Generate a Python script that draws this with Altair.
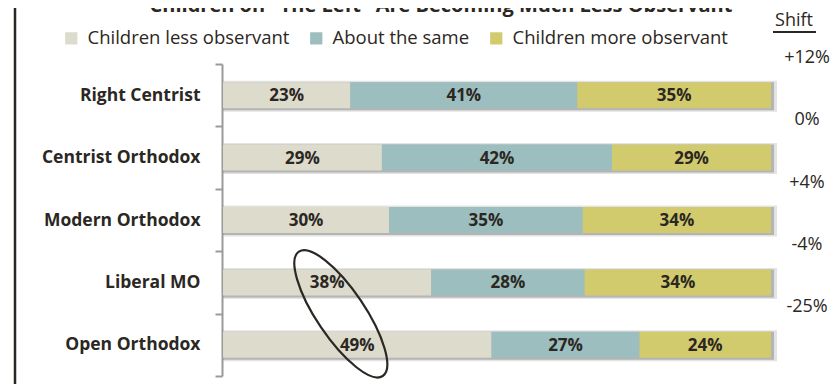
import altair as alt
import pandas as pd

groups = ["Right Centrist", "Centrist Orthodox", "Modern Orthodox", "Liberal MO", "Open Orthodox"]
less = [23, 29, 30, 38, 49]
same = [41, 42, 35, 28, 27]
more = [35, 29, 34, 34, 24]
shift = ["+12%", "0%", "+4%", "-4%", "-25%"]
series = ["Children less observant", "About the same", "Children more observant"]
colors = ["#DDDBCC", "#9DBEBE", "#D2CB6E"]
title_text = 'Children on "The Left" Are Becoming Much Less Observant'
shift_header = "Shift"
circled_x = [0.215]
circled_group = ["Open Orthodox"]

FONT = "Open Sans"
DARK = "#2b2722"

rows = []
for i, g in enumerate(groups):
    vals = [less[i], same[i], more[i]]
    total = sum(vals)
    cum = 0
    for k, s in enumerate(series):
        start = cum / total
        cum += vals[k]
        end = cum / total
        rows.append({"group": g, "series": s, "value": vals[k], "order": k,
                     "x0": start, "x1": end, "mid": (start + end) / 2,
                     "label": f"{vals[k]}%"})
df = pd.DataFrame(rows)
shadow_df = pd.DataFrame({"group": groups, "x0": [0.0] * len(groups), "x1": [1.0] * len(groups)})
shift_df = pd.DataFrame({"group": groups, "shift": shift})
ell_df = pd.DataFrame({"group": circled_group, "ex": circled_x})

y_axis = alt.Axis(
    title=None, domainColor="#9a9a9a", domainWidth=2, tickColor="#9a9a9a", tickWidth=2,
    tickSize=7, tickBand="extent", labelFont=FONT, labelFontWeight="bold", labelFontSize=17.5,
    labelColor=DARK, labelPadding=15, offset=1, labelLimit=0,
)
y_scale = alt.Scale(domain=groups, paddingInner=0, paddingOuter=0)
y_enc = alt.Y("group:N", sort=groups, scale=y_scale, axis=y_axis)
x_scale = alt.Scale(domain=[0, 1], nice=False, zero=False)

shadow1 = alt.Chart(shadow_df).mark_bar(size=31, color="#b0b0b0", opacity=0.35, x2Offset=6, yOffset=1).encode(
    x=alt.X("x0:Q", scale=x_scale, axis=None), x2="x1:Q", y=y_enc)
shadow2 = alt.Chart(shadow_df).mark_bar(size=28, color="#7a7a7a", opacity=0.45, x2Offset=3, yOffset=1).encode(
    x=alt.X("x0:Q", scale=x_scale, axis=None), x2="x1:Q", y=y_enc)

bars = alt.Chart(df).mark_bar(size=26).encode(
    x=alt.X("x0:Q", scale=x_scale, axis=None), x2="x1:Q", y=y_enc,
    color=alt.Color("series:N", sort=series, scale=alt.Scale(domain=series, range=colors),
                    legend=alt.Legend(title=None, orient="none", legendX=-161, legendY=-35,
                                      direction="horizontal", columns=3, symbolType="square",
                                      symbolSize=150, symbolStrokeWidth=0, labelFont=FONT,
                                      labelFontSize=18.5, labelColor=DARK, labelOffset=7,
                                      columnPadding=17, labelLimit=0)),
    order="order:Q",
)

labels = alt.Chart(df).mark_text(font=FONT, fontWeight="bold", fontSize=17, color=DARK, baseline="middle", dy=1).encode(
    x=alt.X("mid:Q", scale=x_scale, axis=None), y=y_enc, text="label:N")

shift_text = alt.Chart(shift_df).mark_text(font=FONT, fontSize=18, color=DARK, baseline="middle", yOffset=-37.5).encode(
    x=alt.value(584), y=y_enc, text="shift:N")

shift_head = alt.Chart(pd.DataFrame({"t": [shift_header]})).mark_text(font=FONT, fontSize=18, color=DARK, baseline="middle").encode(
    x=alt.value(571), y=alt.value(-43), text="t:N")
shift_line = alt.Chart(pd.DataFrame({"t": [shift_header]})).mark_rule(color=DARK, strokeWidth=2.2).encode(
    x=alt.value(550), x2=alt.value(593), y=alt.value(-32))

title = alt.Chart(pd.DataFrame({"t": [title_text]})).mark_text(font=FONT, fontWeight="bold", fontSize=20, color=DARK, baseline="alphabetic").encode(
    x=alt.value(218), y=alt.value(-52), text="t:N")

frame = alt.Chart(pd.DataFrame({"t": [0]})).mark_rule(color=DARK, strokeWidth=2.5).encode(
    x=alt.value(-208), y=alt.value(-60), y2=alt.value(330))

ellipse = alt.Chart(ell_df).mark_point(
    shape="M -1 0 A 1 0.32 0 1 1 1 0 A 1 0.32 0 1 1 -1 0 Z", size=22500, angle=56,
    filled=False, color=DARK, strokeWidth=2.2, opacity=1, yOffset=-31).encode(
    x=alt.X("ex:Q", scale=x_scale, axis=None), y=y_enc)

chart = alt.layer(shadow1, shadow2, bars, labels, shift_text, shift_head, shift_line, title, frame, ellipse).properties(
    width=548, height=312,
    autosize=alt.AutoSizeParams(type="none"),
    padding={"left": 215, "top": 56, "right": 61, "bottom": 8},
).configure(background="white").configure_view(stroke=None)

chart.save("out.html", embed_options={"renderer": "svg", "actions": False})
